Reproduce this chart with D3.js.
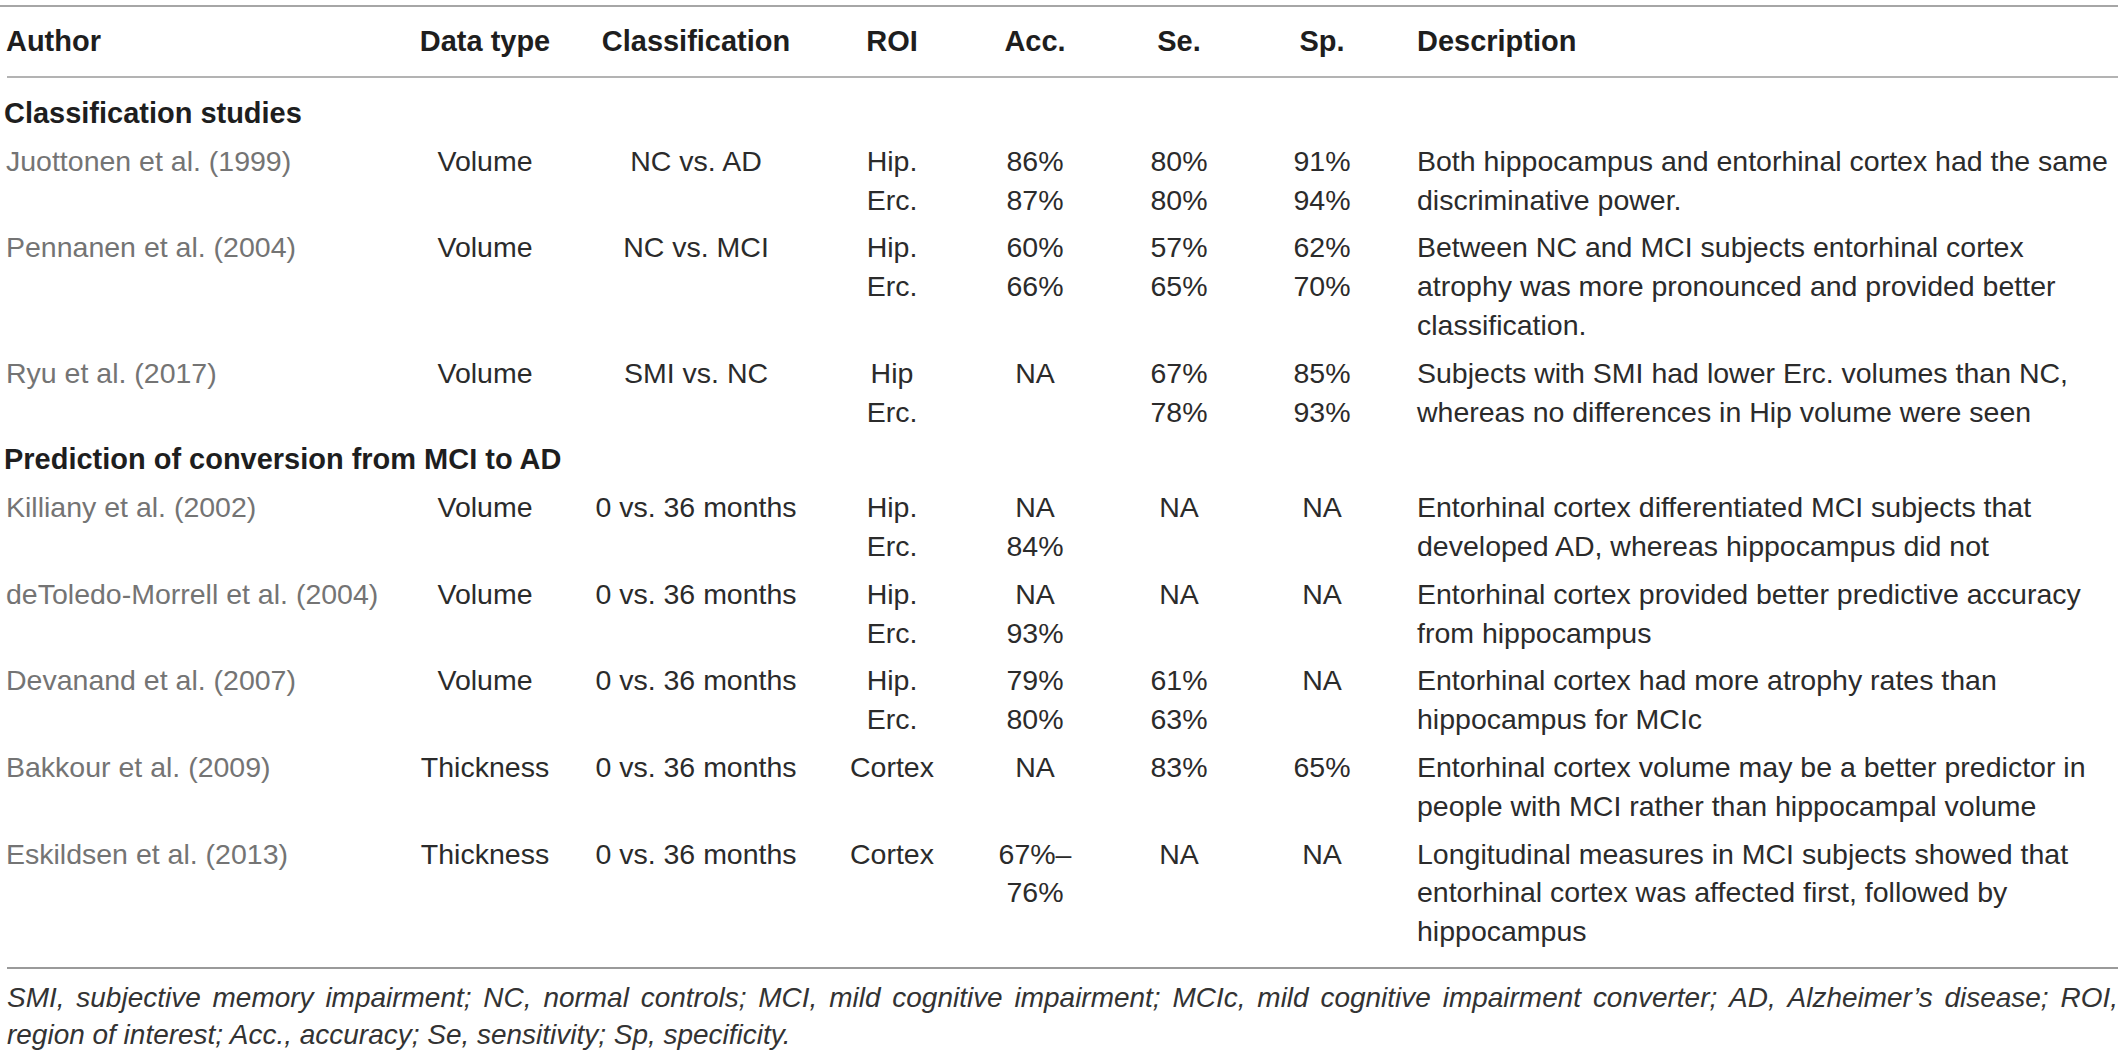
<!DOCTYPE html>
<html>
<head>
<meta charset="utf-8">
<script src="https://cdn.jsdelivr.net/npm/d3@7"></script>
<style>
  html, body { margin: 0; padding: 0; background: #fff; }
  svg text { font-family: "Liberation Sans", Arial, sans-serif; }
</style>
</head>
<body>
<div id="chart"></div>
<script>
// ---- table content ----
const headers = ["Author", "Data type", "Classification", "ROI", "Acc.", "Se.", "Sp.", "Description"];
const sections = ["Classification studies", "Prediction of conversion from MCI to AD"];
const sectionOf = [0, 0, 0, 1, 1, 1, 1, 1];

const authors = [
  "Juottonen et al. (1999)", "Pennanen et al. (2004)", "Ryu et al. (2017)",
  "Killiany et al. (2002)", "deToledo-Morrell et al. (2004)", "Devanand et al. (2007)",
  "Bakkour et al. (2009)", "Eskildsen et al. (2013)"
];
const dataTypes = ["Volume", "Volume", "Volume", "Volume", "Volume", "Volume", "Thickness", "Thickness"];
const classifications = [
  "NC vs. AD", "NC vs. MCI", "SMI vs. NC",
  "0 vs. 36 months", "0 vs. 36 months", "0 vs. 36 months", "0 vs. 36 months", "0 vs. 36 months"
];
const rois = [
  ["Hip.", "Erc."], ["Hip.", "Erc."], ["Hip", "Erc."],
  ["Hip.", "Erc."], ["Hip.", "Erc."], ["Hip.", "Erc."], ["Cortex"], ["Cortex"]
];
const accuracy = [
  ["86%", "87%"], ["60%", "66%"], ["NA"],
  ["NA", "84%"], ["NA", "93%"], ["79%", "80%"], ["NA"], ["67%–", "76%"]
];
const sensitivity = [
  ["80%", "80%"], ["57%", "65%"], ["67%", "78%"],
  ["NA"], ["NA"], ["61%", "63%"], ["83%"], ["NA"]
];
const specificity = [
  ["91%", "94%"], ["62%", "70%"], ["85%", "93%"],
  ["NA"], ["NA"], ["NA"], ["65%"], ["NA"]
];
const descriptions = [
  ["Both hippocampus and entorhinal cortex had the same", "discriminative power."],
  ["Between NC and MCI subjects entorhinal cortex", "atrophy was more pronounced and provided better", "classification."],
  ["Subjects with SMI had lower Erc. volumes than NC,", "whereas no differences in Hip volume were seen"],
  ["Entorhinal cortex differentiated MCI subjects that", "developed AD, whereas hippocampus did not"],
  ["Entorhinal cortex provided better predictive accuracy", "from hippocampus"],
  ["Entorhinal cortex had more atrophy rates than", "hippocampus for MCIc"],
  ["Entorhinal cortex volume may be a better predictor in", "people with MCI rather than hippocampal volume"],
  ["Longitudinal measures in MCI subjects showed that", "entorhinal cortex was affected first, followed by", "hippocampus"]
];
const footnoteLines = [
  "SMI, subjective memory impairment; NC, normal controls; MCI, mild cognitive impairment; MCIc, mild cognitive impairment converter; AD, Alzheimer’s disease; ROI,",
  "region of interest; Acc., accuracy; Se, sensitivity; Sp, specificity."
];

function drawTable() {
  const width = 2120, height = 1054;
  const lineH = 38.9, rowPad = 8.8;
  const textColor = "#2b2b2b", authorColor = "#747474", boldColor = "#1e1e1e";

  const svg = d3.select("#chart").append("svg")
    .attr("width", width)
    .attr("height", height);

  // pick font sizes so a reference line has the width it has in the picture
  function fitSize(str, target, weight, style) {
    const t = svg.append("text")
      .attr("font-size", 100)
      .attr("font-weight", weight)
      .attr("font-style", style)
      .text(str);
    const w = t.node().getComputedTextLength();
    t.remove();
    return 100 * target / w;
  }
  const fontSize = fitSize(descriptions[0][0], 691, 400, "normal");
  const boldSize = fitSize(sections[0], 298, 700, "normal");
  const noteSize = fitSize(footnoteLines[1], 784, 400, "italic");

  // column positions and anchors
  const colX = d3.scaleOrdinal().domain(headers).range([6, 485, 696, 892, 1035, 1179, 1322, 1417]);
  const colAnchor = d3.scaleOrdinal().domain(headers)
    .range(["start", "middle", "middle", "middle", "middle", "middle", "middle", "start"]);

  // build the row list: section headers interleaved with study rows
  const rows = [];
  authors.forEach((a, i) => {
    if (i === 0 || sectionOf[i] !== sectionOf[i - 1]) {
      rows.push({ type: "section", label: sections[sectionOf[i]], lines: 1 });
    }
    const cells = [[a], [dataTypes[i]], [classifications[i]], rois[i], accuracy[i], sensitivity[i], specificity[i], descriptions[i]];
    rows.push({ type: "row", cells, lines: d3.max(cells, c => c.length) });
  });

  // line units -> pixels
  let acc = 0;
  rows.forEach(r => { r.start = acc; acc += r.lines + rowPad / lineH; });
  const y = d3.scaleLinear().domain([0, 1]).range([123, 123 + lineH]);

  // rules
  const rules = [
    { y: 6, x1: 0, w: 2.2, c: "#a6a6a6" },
    { y: 77, x1: 7, w: 2.2, c: "#b3b3b3" },
    { y: 968, x1: 7, w: 1.8, c: "#9a9a9a" }
  ];
  svg.selectAll("line.rule")
    .data(rules)
    .join("line")
      .attr("class", "rule")
      .attr("x1", d => d.x1)
      .attr("x2", 2118)
      .attr("y1", d => d.y)
      .attr("y2", d => d.y)
      .attr("stroke", d => d.c)
      .attr("stroke-width", d => d.w);

  // header
  svg.append("g").selectAll("text")
    .data(headers)
    .join("text")
      .attr("x", d => colX(d))
      .attr("y", 51)
      .attr("text-anchor", d => colAnchor(d))
      .attr("font-size", boldSize)
      .attr("font-weight", 700)
      .attr("fill", boldColor)
      .text(d => d);

  // section labels
  svg.append("g").selectAll("text")
    .data(rows.filter(r => r.type === "section"))
    .join("text")
      .attr("x", 4)
      .attr("y", d => y(d.start))
      .attr("font-size", boldSize)
      .attr("font-weight", 700)
      .attr("fill", boldColor)
      .text(d => d.label);

  // study rows
  const rowG = svg.append("g").selectAll("g")
    .data(rows.filter(r => r.type === "row"))
    .join("g");

  rowG.each(function(r) {
    const g = d3.select(this);
    r.cells.forEach((cell, ci) => {
      const col = headers[ci];
      g.selectAll(null)
        .data(cell)
        .join("text")
          .attr("x", colX(col))
          .attr("y", (d, li) => y(r.start + li))
          .attr("text-anchor", colAnchor(col))
          .attr("font-size", fontSize)
          .attr("fill", ci === 0 ? authorColor : textColor)
          .text(d => d);
    });
  });

  // footnote, first line justified to the table width
  const fnBase = [1007, 1044];
  const fn = svg.append("g")
    .attr("font-size", noteSize)
    .attr("font-style", "italic")
    .attr("fill", "#333");

  const words = footnoteLines[0].split(" ");
  const wordTexts = fn.selectAll("text.w")
    .data(words)
    .join("text")
      .attr("class", "w")
      .attr("y", fnBase[0])
      .text(d => d);
  const widths = [];
  wordTexts.each(function() { widths.push(this.getComputedTextLength()); });
  const left = 7, right = 2118;
  const gap = (right - left - d3.sum(widths)) / (words.length - 1);
  let cx = left;
  wordTexts.attr("x", (d, i) => { const x = cx; cx += widths[i] + gap; return x; });

  fn.append("text")
    .attr("x", left)
    .attr("y", fnBase[1])
    .text(footnoteLines[1]);
}

window.onload = drawTable;
</script>
</body>
</html>
